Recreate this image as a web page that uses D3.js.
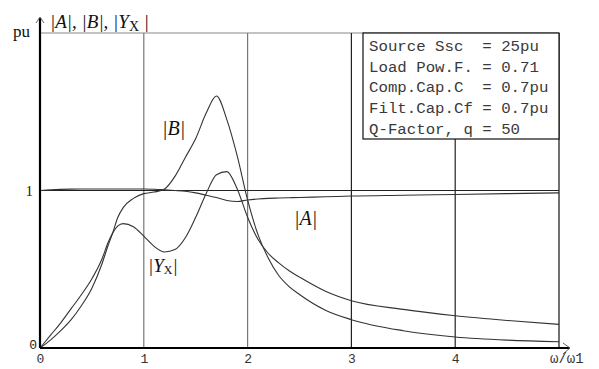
<!DOCTYPE html>
<html><head><meta charset="utf-8">
<script src="https://cdn.jsdelivr.net/npm/d3@7"></script>
<style>
html,body{margin:0;padding:0;background:#fff;}
svg{display:block;}
</style></head>
<body>
<svg id="c" width="599" height="369"></svg>
<script>
// ---- data ----
const omega = [0,0.1,0.2,0.3,0.4,0.5,0.6,0.65,0.7,0.75,0.8,0.9,1.0,1.1,1.2,1.3,1.4,1.5,1.6,1.7,1.8,1.9,2.0,2.1,2.2,2.3,2.4,2.5,2.75,3.0,3.5,4.0,4.5,5.0];
const magA  = [1.0,1.004,1.007,1.009,1.01,1.01,1.01,1.01,1.01,1.01,1.01,1.01,1.01,1.008,1.004,1.0,0.995,0.985,0.97,0.955,0.937,0.93,0.94,0.946,0.95,0.952,0.954,0.956,0.96,0.965,0.97,0.975,0.98,0.985];
const magB  = [0,0.05,0.11,0.18,0.27,0.38,0.54,0.64,0.73,0.83,0.89,0.95,0.98,0.99,1.01,1.09,1.21,1.33,1.49,1.60,1.45,1.22,0.94,0.72,0.57,0.46,0.39,0.34,0.24,0.18,0.11,0.07,0.05,0.04];
const magYx = [0,0.08,0.16,0.25,0.34,0.44,0.57,0.66,0.73,0.775,0.79,0.77,0.71,0.645,0.61,0.625,0.70,0.83,0.98,1.10,1.12,1.01,0.83,0.69,0.60,0.54,0.49,0.45,0.36,0.30,0.245,0.205,0.175,0.15];
const xTicks = [0,1,2,3,4];
const yTicks = [0,1];
const gridX = [1,2,3,4];
const legendLines = ["Source Ssc  = 25pu","Load Pow.F. = 0.71","Comp.Cap.C  = 0.7pu","Filt.Cap.Cf = 0.7pu","Q-Factor, q = 50"];

const svg = d3.select("#c");
const x = d3.scaleLinear().domain([0,5]).range([40,559]);
const y = d3.scaleLinear().domain([0,2]).range([348,33]);
const mono = "'Liberation Mono','DejaVu Sans Mono',monospace";
const serif = "'Liberation Serif','Times New Roman',serif";

// frame (top + right)
svg.append("line").attr("x1",x(0)).attr("x2",x(5)).attr("y1",y(2)).attr("y2",y(2)).attr("stroke","#888").attr("stroke-width",1.2);
svg.append("line").attr("x1",x(5)).attr("x2",x(5)).attr("y1",y(2)).attr("y2",y(0)).attr("stroke","#111").attr("stroke-width",1.2);

// vertical grid
svg.append("g").selectAll("line").data(gridX).join("line")
  .attr("x1",d=>x(d)).attr("x2",d=>x(d)).attr("y1",y(2)).attr("y2",y(0))
  .attr("stroke",(d,i)=>i<2?"#777":"#222").attr("stroke-width",1.2);
// horizontal line at 1
svg.append("line").attr("x1",x(0)).attr("x2",x(5)).attr("y1",y(1)).attr("y2",y(1)).attr("stroke","#222").attr("stroke-width",1.2);

// legend box
svg.append("rect").attr("x",363).attr("y",y(2)).attr("width",x(5)-363).attr("height",139-y(2))
  .attr("fill","#fff").attr("stroke","#111").attr("stroke-width",1.2);
svg.append("g").selectAll("text").data(legendLines).join("text")
  .attr("x",369).attr("y",(d,i)=>51+i*20.7)
  .attr("font-family",mono).attr("font-size",14.5).attr("fill","#3a3a3a")
  .attr("textLength",d=>d.length*9.44).attr("lengthAdjust","spacingAndGlyphs")
  .style("white-space","pre").text(d=>d);

// curves
const line = d3.line().x((d,i)=>x(omega[i])).y(d=>y(d)).curve(d3.curveMonotoneX);
[magA,magB,magYx].forEach(s=>{
  svg.append("path").attr("d",line(s)).attr("fill","none").attr("stroke","#333").attr("stroke-width",1.1);
});

// axes
svg.append("line").attr("x1",x(0)).attr("x2",570).attr("y1",y(0)).attr("y2",y(0)).attr("stroke","#000").attr("stroke-width",2.2);
svg.append("line").attr("x1",x(0)).attr("x2",x(0)).attr("y1",y(0)).attr("y2",18).attr("stroke","#000").attr("stroke-width",2.2);
svg.append("path").attr("d",`M563,343 L570,348 L563,354`).attr("fill","none").attr("stroke","#666").attr("stroke-width",1);
svg.append("path").attr("d",`M36,23 L40,17 L44,23`).attr("fill","none").attr("stroke","#666").attr("stroke-width",1);

const xa = d3.axisBottom(x).tickValues(xTicks).tickSize(0).tickPadding(0).tickFormat(d3.format("d"));
const gx = svg.append("g").attr("transform",`translate(0,${y(0)})`).call(xa);
gx.select(".domain").remove();
gx.selectAll("text").attr("y",15).attr("dy",0).attr("font-family",mono).attr("font-size",13).attr("fill","#333");

const ya = d3.axisLeft(y).tickValues(yTicks).tickSize(0).tickPadding(0).tickFormat(d3.format("d"));
const gy = svg.append("g").attr("transform",`translate(${x(0)},0)`).call(ya);
gy.select(".domain").remove();
gy.selectAll("text").attr("x",d=>d===0?-3:-7).attr("dy",d=>d===0?"0":"0.35em")
  .attr("font-family",(d)=>d===0?mono:serif).attr("font-size",d=>d===0?13:15).attr("fill","#222");

// labels
svg.append("text").attr("x",13).attr("y",37).attr("font-family",serif).attr("font-size",17).attr("fill","#111").text("pu");
const t = svg.append("text").attr("x",50).attr("y",28).attr("font-family",serif).attr("font-size",19).attr("fill","#111");
t.append("tspan").attr("font-style","italic").text("|A|, |B|, |Y");
t.append("tspan").attr("font-size",14).attr("dy",3).text("X");
t.append("tspan").attr("font-style","italic").attr("dy",-3).text(" |");

svg.append("text").attr("x",162).attr("y",135).attr("font-family",serif).attr("font-size",20).attr("font-style","italic").attr("fill","#111").text("|B|");
svg.append("text").attr("x",294).attr("y",225).attr("font-family",serif).attr("font-size",20).attr("font-style","italic").attr("fill","#111").text("|A|");
const yl = svg.append("text").attr("x",148).attr("y",272).attr("font-family",serif).attr("font-size",19).attr("fill","#111");
yl.append("tspan").attr("font-style","italic").text("|Y");
yl.append("tspan").attr("font-size",12).attr("dy",2).text("X");
yl.append("tspan").attr("font-style","italic").attr("dy",-2).text("|");

svg.append("text").attr("x",550).attr("y",363).attr("font-family",mono).attr("font-size",14).attr("fill","#333").text("ω/ω1");
</script>
</body></html>
